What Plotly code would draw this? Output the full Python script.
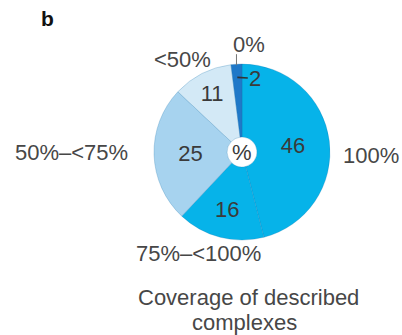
import math
import plotly.graph_objects as go

# Share of complexes by coverage class (%)
categories = ["100%", "75%–<100%", "50%–<75%", "<50%", "0%"]
values = [46, 16, 25, 11, 2]
colors = ["#06b3e9", "#06b3e9", "#a7d3ef", "#d3e9f6", "#1f78c8"]
title_lines = ["Coverage of described", "complexes"]

W, H = 402, 335
CX, CY, R = 242, 152, 88  # pie centre and radius in pixels
FONT = "Liberation Sans, Arial, Helvetica, sans-serif"

# numbers inside slices; the tiny last slice gets a leader label instead
inside_text = [str(v) for v in values[:-1]] + [""]

fig = go.Figure(go.Pie(
    labels=categories,
    values=values,
    sort=False,
    direction="clockwise",
    rotation=0,
    hole=0.17,
    text=inside_text,
    textinfo="text",
    textposition="inside",
    insidetextorientation="horizontal",
    textfont=dict(family=FONT, size=22, color="#3a3a3a"),
    marker=dict(colors=colors, line=dict(color="rgba(20,110,170,0.35)", width=0.7)),
    domain=dict(x=[(CX - R) / W, (CX + R) / W],
                y=[(H - CY - R) / H, (H - CY + R) / H]),
    showlegend=False,
    hoverinfo="label+value",
))


def px(x, y):
    return x / W, 1 - y / H


def ann(text, x, y, size=22, color="#474747", **kw):
    ax_, ay_ = px(x, y)
    return dict(text=text, x=ax_, y=ay_, xref="paper", yref="paper",
                showarrow=False, xanchor="center", yanchor="middle",
                font=dict(family=FONT, size=size, color=color), **kw)


# point on the pie at a cumulative share and a radius fraction
def pie_point(share, frac):
    a = 2 * math.pi * share / sum(values)
    return CX + frac * R * math.sin(a), CY - frac * R * math.cos(a)


last_mid = (sum(values) - values[-1] / 2)
tip_x, tip_y = pie_point(last_mid, 0.85)
top_x, top_y = pie_point(last_mid, 1.0)

annotations = [
    ann("<b>b</b>", 47, 18, size=21, color="#111111"),
    ann("100%", 371, 155),
    ann("75%–<100%", 198, 253),
    ann("50%–<75%", 71, 152),
    ann("<50%", 182, 60),
    ann("0%", 249, 45),
    ann("%", CX, CY, color="#3a3a3a"),
    ann(title_lines[0], 248, 297),
    ann(title_lines[1], 245, 322),
]

# leader for the value of the smallest slice
lx, ly = px(tip_x, tip_y)
annotations.append(dict(
    text=str(values[-1]), x=lx, y=ly, xref="paper", yref="paper",
    showarrow=True, arrowhead=0, arrowwidth=1.6, arrowcolor="#333333",
    ax=18, ay=1, standoff=0,
    font=dict(family=FONT, size=22, color="#3a3a3a"),
))

tx0, ty0 = px(top_x, top_y - 10)
tx1, ty1 = px(top_x, top_y + 1)
shapes = [dict(type="line", xref="paper", yref="paper",
               x0=tx0, y0=ty0, x1=tx1, y1=ty1,
               line=dict(color="#777777", width=1))]

fig.update_layout(
    width=W, height=H,
    margin=dict(l=0, r=0, t=0, b=0),
    paper_bgcolor="white",
    plot_bgcolor="white",
    annotations=annotations,
    shapes=shapes,
)

fig.write_html("out.html")
